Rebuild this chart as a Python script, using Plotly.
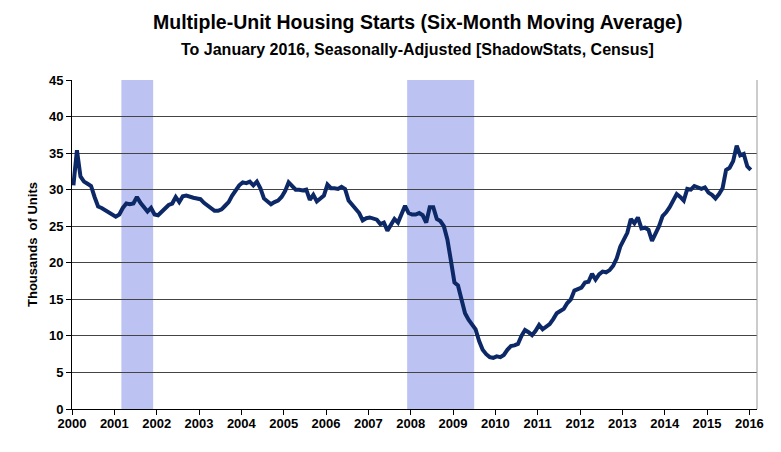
import plotly.graph_objects as go

# Monthly six-month moving average, thousands of units, Jan 2000 .. Jan 2016
y2000 = [30.6, 35.4, 31.8, 31.1, 30.8, 30.5, 29.0, 27.7, 27.5, 27.2, 26.9, 26.5]
y2001 = [26.3, 26.6, 27.5, 28.1, 28.0, 28.1, 29.0, 28.2, 27.6, 27.0, 27.5, 26.6]
y2002 = [26.5, 27.0, 27.5, 27.9, 28.1, 29.0, 28.3, 29.1, 29.2, 29.0, 28.9, 28.8]
y2003 = [28.7, 28.2, 27.8, 27.4, 27.1, 27.1, 27.3, 27.8, 28.3, 29.2, 29.9, 30.6]
y2004 = [31.0, 30.9, 31.1, 30.6, 31.1, 30.2, 28.8, 28.4, 28.0, 28.3, 28.5, 29.0]
y2005 = [29.8, 31.0, 30.4, 30.0, 30.0, 29.9, 30.0, 28.6, 29.3, 28.4, 28.8, 29.2]
y2006 = [30.7, 30.2, 30.2, 30.1, 30.4, 30.1, 28.5, 27.9, 27.4, 26.8, 25.8, 26.1]
y2007 = [26.2, 26.0, 25.9, 25.3, 25.5, 24.4, 25.1, 26.0, 25.5, 26.6, 27.8, 26.8]
y2008 = [26.6, 26.6, 26.8, 26.5, 25.5, 27.6, 27.6, 26.0, 25.7, 25.0, 23.2, 20.3]
y2009 = [17.3, 16.9, 15.2, 13.1, 12.2, 11.6, 10.9, 9.3, 8.1, 7.5, 7.1, 7.0]
y2010 = [7.2, 7.1, 7.4, 8.1, 8.6, 8.7, 8.9, 10.0, 10.8, 10.5, 10.1, 10.7]
y2011 = [11.5, 10.9, 11.2, 11.6, 12.3, 13.1, 13.4, 13.7, 14.5, 15.0, 16.2, 16.4]
y2012 = [16.6, 17.3, 17.4, 18.5, 17.7, 18.4, 18.8, 18.7, 19.0, 19.6, 20.6, 22.2]
y2013 = [23.1, 24.1, 26.0, 25.4, 26.2, 24.7, 24.8, 24.5, 23.0, 24.0, 25.0, 26.4]
y2014 = [26.9, 27.6, 28.5, 29.4, 29.0, 28.5, 30.1, 30.0, 30.5, 30.3, 30.1, 30.3]
y2015 = [29.6, 29.3, 28.8, 29.4, 30.2, 32.7, 33.0, 33.9, 36.0, 34.7, 34.9, 33.2]
y2016 = [32.7]

values = (y2000 + y2001 + y2002 + y2003 + y2004 + y2005 + y2006 + y2007 +
          y2008 + y2009 + y2010 + y2011 + y2012 + y2013 + y2014 + y2015 + y2016)
start_year = 2000
dates = [start_year + (i + 0.4) / 12 for i in range(len(values))]

year_ticks = list(range(2000, 2017))
y_ticks = list(range(0, 46, 5))

recession_starts = [2001 + 2 / 12, 2007 + 11 / 12]
recession_ends = [2001 + 11 / 12, 2009 + 6 / 12]

FONT = "Liberation Sans, Arial, sans-serif"

fig = go.Figure()
fig.add_trace(go.Scatter(
    x=dates, y=values, mode="lines",
    line=dict(color="#0c2866", width=4),
    hoverinfo="skip", showlegend=False,
))

shapes = []
for s, e in zip(recession_starts, recession_ends):
    shapes.append(dict(type="rect", xref="x", yref="paper", x0=s, x1=e, y0=0, y1=1,
                       fillcolor="#bcc3f2", line=dict(width=0), layer="between"))
# right border of plot area
shapes.append(dict(type="line", xref="paper", yref="paper", x0=1, x1=1, y0=0, y1=1,
                   line=dict(color="#999999", width=1), layer="above"))

fig.update_layout(
    width=781, height=452,
    margin=dict(l=64, r=32, t=72, b=51),
    paper_bgcolor="white", plot_bgcolor="white",
    font=dict(family=FONT, color="black"),
    shapes=shapes,
    annotations=[
        dict(text="<b>Multiple-Unit Housing Starts (Six-Month Moving Average)</b>",
             xref="paper", yref="paper", x=0.504, y=1, yshift=58, showarrow=False,
             xanchor="center", yanchor="middle", font=dict(size=19.5, family=FONT)),
        dict(text="<b>To January 2016, Seasonally-Adjusted [ShadowStats, Census]</b>",
             xref="paper", yref="paper", x=0.504, y=1, yshift=31, showarrow=False,
             xanchor="center", yanchor="middle", font=dict(size=16, family=FONT)),
    ],
    xaxis=dict(
        range=[2000, 2016.18], tickmode="array", tickvals=year_ticks,
        ticktext=[f"<b>{y}</b>" for y in year_ticks],
        showgrid=False, zeroline=False,
        showline=True, linecolor="black", linewidth=1,
        ticks="outside", ticklen=5, tickcolor="black",
        ticklabelstandoff=-3,
        tickfont=dict(size=13, family=FONT),
    ),
    yaxis=dict(
        range=[0, 45], tickmode="array", tickvals=y_ticks,
        ticktext=[f"<b>{v}</b>" for v in y_ticks],
        showgrid=True, gridcolor="#444444", gridwidth=1,
        zeroline=False,
        showline=True, linecolor="black", linewidth=1,
        ticks="outside", ticklen=5, tickcolor="black",
        tickfont=dict(size=13, family=FONT),
        title=dict(text="<b>Thousands  of Units</b>", font=dict(size=13, family=FONT), standoff=8),
    ),
)

fig.write_html("out.html")
